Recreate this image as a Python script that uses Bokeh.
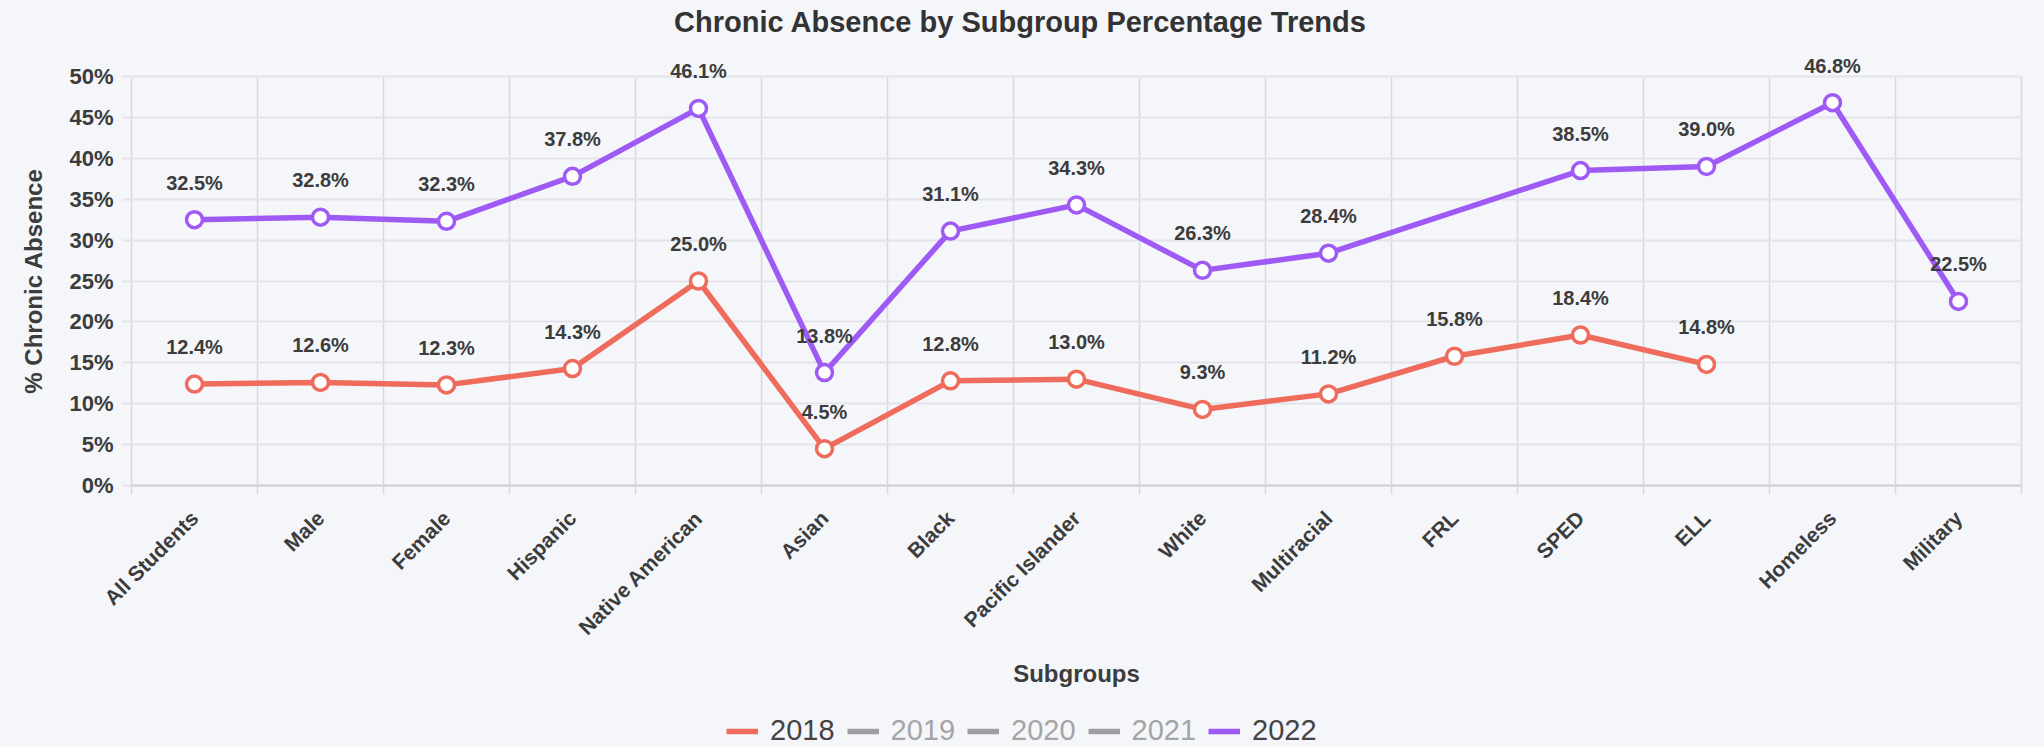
import math
from bokeh.plotting import figure
from bokeh.models import (ColumnDataSource, FixedTicker, Range1d, LabelSet, Label,
                          Legend, LegendItem)
from bokeh.core.properties import value
from bokeh.embed import file_html
from bokeh.resources import INLINE

# ---------------- data ----------------
categories = ["All Students", "Male", "Female", "Hispanic", "Native American", "Asian",
              "Black", "Pacific Islander", "White", "Multiracial", "FRL", "SPED", "ELL",
              "Homeless", "Military"]
years = ["2018", "2019", "2020", "2021", "2022"]
values_2018 = [12.4, 12.6, 12.3, 14.3, 25.0, 4.5, 12.8, 13.0, 9.3, 11.2, 15.8, 18.4, 14.8, None, None]
values_2019 = []   # hidden in the legend
values_2020 = []   # hidden in the legend
values_2021 = []   # hidden in the legend
values_2022 = [32.5, 32.8, 32.3, 37.8, 46.1, 13.8, 31.1, 34.3, 26.3, 28.4, None, 38.5, 39.0, 46.8, 22.5]
y_ticks = [0, 5, 10, 15, 20, 25, 30, 35, 40, 45, 50]
y_tick_labels = ["0%", "5%", "10%", "15%", "20%", "25%", "30%", "35%", "40%", "45%", "50%"]
title_text = "Chronic Absence by Subgroup Percentage Trends"
x_title = "Subgroups"
y_title = "% Chronic Absence"

# ---------------- style / layout ----------------
BG = "#f4f6fa"
RED = "#ef6b5c"
PURPLE = "#9f5af5"
HIDDEN = "#3a3a3a"
GRID_H = "#e2e4e9"
GRID_V = "#d8d9de"
TEXT = "#3c3c3c"
FONT = "Liberation Sans"

W, H = 2044, 747                      # canvas size
PL, PR, PT, PB = 131, 2021, 76, 485   # plot area edges in canvas pixels

n = len(categories)
centers = [i + 0.5 for i in range(n)]
boundaries = [float(i) for i in range(n + 1)]
y_lo, y_hi = y_ticks[0], y_ticks[-1]

# ranges chosen so that the data area [0, n] x [0, 50] lands on the plot-area pixels,
# while the frame covers the whole canvas (so titles/labels/legend are never clipped)
kx = (PR - PL) / n
ky = (PB - PT) / (y_hi - y_lo)
x_range = Range1d(-PL / kx, n + (W - PR) / kx)
y_range = Range1d(y_lo - (H - PB) / ky, y_hi + PT / ky)

p = figure(frame_width=W, frame_height=H, x_range=x_range, y_range=y_range,
           output_backend="svg", toolbar_location=None, min_border=0,
           background_fill_color=BG, border_fill_color=BG, outline_line_color=None)

# x axis (fixed at y = 0)
xa = p.xaxis[0]
xa.fixed_location = y_lo
xa.bounds = (0, n)
xa.ticker = FixedTicker(ticks=centers, minor_ticks=boundaries)
xa.major_label_overrides = {c: name for c, name in zip(centers, categories)}
xa.major_label_orientation = math.pi / 4
xa.major_tick_line_color = None
xa.major_tick_out = 0
xa.major_tick_in = 0
xa.minor_tick_out = 9
xa.minor_tick_in = 0
xa.minor_tick_line_color = GRID_V
xa.minor_tick_line_width = 1.5
xa.axis_line_color = "#d0d1d6"
xa.axis_line_width = 2
xa.major_label_standoff = 20
xa.major_label_text_font = FONT
xa.major_label_text_font_style = "bold"
xa.major_label_text_font_size = "21px"
xa.major_label_text_color = TEXT
xa.axis_label = x_title
xa.axis_label_text_font = FONT
xa.axis_label_text_font_style = "bold"
xa.axis_label_text_font_size = "24px"
xa.axis_label_text_color = TEXT
xa.axis_label_standoff = 10

# y axis (fixed at x = 0)
ya = p.yaxis[0]
ya.fixed_location = 0
ya.bounds = (y_lo, y_hi)
ya.ticker = FixedTicker(ticks=y_ticks)
ya.major_label_overrides = {t: lab for t, lab in zip(y_ticks, y_tick_labels)}
ya.axis_line_color = None
ya.major_tick_out = 9
ya.major_tick_in = 0
ya.major_tick_line_color = GRID_H
ya.major_tick_line_width = 2
ya.minor_tick_line_color = None
ya.major_label_standoff = 9
ya.major_label_text_font = FONT
ya.major_label_text_font_style = "bold"
ya.major_label_text_font_size = "22px"
ya.major_label_text_color = TEXT
ya.axis_label = y_title
ya.axis_label_text_font = FONT
ya.axis_label_text_font_style = "bold"
ya.axis_label_text_font_size = "24px"
ya.axis_label_text_color = TEXT
ya.axis_label_standoff = 19

# grids, limited to the data area
p.xgrid.ticker = FixedTicker(ticks=boundaries)
p.ygrid.ticker = FixedTicker(ticks=y_ticks)
p.xgrid.grid_line_color = GRID_V
p.xgrid.grid_line_width = 1.5
p.ygrid.grid_line_color = GRID_H
p.ygrid.grid_line_width = 2
try:
    p.xgrid.cross_bounds = (y_lo, y_hi)
    p.ygrid.cross_bounds = (0, n)
except Exception:
    p.xgrid.visible = False
    p.ygrid.visible = False
    p.segment(x0=boundaries, y0=[y_lo] * len(boundaries), x1=boundaries,
              y1=[y_hi] * len(boundaries), line_color=GRID_V, line_width=1.5)
    p.segment(x0=[0] * len(y_ticks), y0=y_ticks, x1=[n] * len(y_ticks), y1=y_ticks,
              line_color=GRID_H, line_width=2)


def series_source(vals):
    xs = [centers[i] for i, v in enumerate(vals) if v is not None]
    ys = [v for v in vals if v is not None]
    labels = [f"{v:.1f}%" for v in ys]
    return ColumnDataSource(dict(x=xs, y=ys, label=labels))


series_lines = {}
for yr, vals, color in [("2018", values_2018, RED), ("2022", values_2022, PURPLE)]:
    src = series_source(vals)
    series_lines[yr] = p.line("x", "y", source=src, line_color=color, line_width=5.5)
    p.scatter("x", "y", source=src, size=16, marker="circle", fill_color="white",
              line_color=color, line_width=3.5)
    p.add_layout(LabelSet(x="x", y="y", text="label", source=src, y_offset=37,
                          text_align="center", text_baseline="middle",
                          text_font=value(FONT), text_font_style="bold",
                          text_font_size="20px", text_color=TEXT))

# chart title, centred on the canvas
p.add_layout(Label(x=1020, y=H - 21, x_units="screen", y_units="screen", text=title_text,
                   text_align="center", text_baseline="middle", text_font=FONT,
                   text_font_style="bold", text_font_size="29px", text_color="#333333"))

# legend (2019-2021 are hidden series with no data shown, drawn greyed out)
nan = float("nan")
legend_items = []
for yr, vals in zip(years, [values_2018, values_2019, values_2020, values_2021, values_2022]):
    if yr in series_lines:
        r = series_lines[yr]
    else:
        r = p.line(x=[nan], y=[nan], line_color=HIDDEN, line_width=5.5, visible=False)
    legend_items.append(LegendItem(label=yr, renderers=[r]))

legend = Legend(items=legend_items, orientation="horizontal", location=(726, 0),
                click_policy="hide", inactive_fill_color=BG, inactive_fill_alpha=0.54,
                glyph_width=32, glyph_height=10, label_standoff=12, spacing=12,
                padding=0, margin=0, border_line_color=None, background_fill_alpha=0,
                label_text_font=FONT, label_text_font_size="29px", label_text_color="#444444")
p.add_layout(legend)

open("out.html", "w").write(file_html(p, INLINE))
